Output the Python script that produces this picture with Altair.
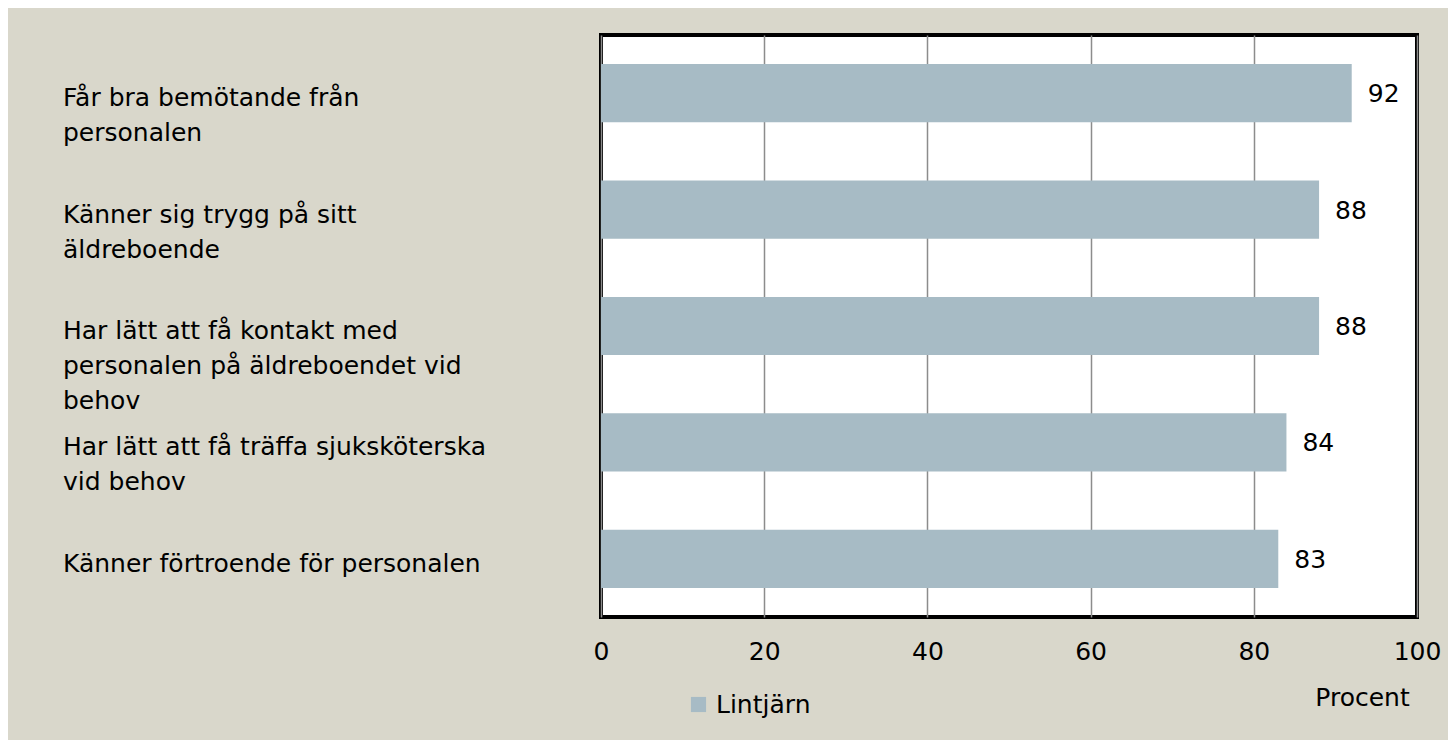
import altair as alt
import pandas as pd

categories = [
    "Får bra bemötande från\npersonalen",
    "Känner sig trygg på sitt\näldreboende",
    "Har lätt att få kontakt med\npersonalen på äldreboendet vid\nbehov",
    "Har lätt att få träffa sjuksköterska\nvid behov",
    "Känner förtroende för personalen",
]
values = [92, 88, 88, 84, 83]
series = ["Lintjärn"] * 5
x_ticks = [0, 20, 40, 60, 80, 100]

df = pd.DataFrame({"cat": categories, "val": values, "serie": series})

FONT = "DejaVu Sans"
FS = 25
BG = "#d9d7cb"
BAR = "#a7bbc5"

y_enc = alt.Y("cat:N", sort=categories, axis=None,
              scale=alt.Scale(paddingInner=0.5, paddingOuter=0.25))

bars = alt.Chart(df).mark_bar(color=BAR).encode(
    y=y_enc,
    x=alt.X("val:Q", scale=alt.Scale(domain=[0, 100], nice=False),
            axis=alt.Axis(values=x_ticks, title="Procent", grid=True,
                          gridColor="#8c8c8c", gridWidth=1.5, ticks=False,
                          domain=False, labelFontSize=FS, labelFont=FONT,
                          labelColor="#000", labelPadding=22, labelFlush=False,
                          titleFont=FONT, titleFontSize=FS, titleFontWeight="normal",
                          titleColor="#000", titleX=761, titleY=80,
                          titleAnchor="middle", titleBaseline="middle")),
    color=alt.Color("serie:N", scale=alt.Scale(range=[BAR]),
                    legend=alt.Legend(title=None, orient="none", legendX=85, legendY=657,
                                      symbolType="square", symbolSize=230,
                                      symbolStrokeWidth=0, labelFont=FONT,
                                      labelFontSize=FS, labelColor="#000",
                                      labelOffset=5, padding=0)),
)

vals = alt.Chart(df).mark_text(align="left", baseline="middle", dx=16, dy=1,
                               font=FONT, fontSize=FS, color="#000").encode(
    y=y_enc, x=alt.X("val:Q"), text=alt.Text("val:Q"))

labels = alt.Chart(df).mark_text(align="left", baseline="top", dy=-7,
                                 lineBreak="\n", lineHeight=35,
                                 font=FONT, fontSize=FS, color="#000").encode(
    y=y_enc, x=alt.value(-538), text="cat:N")

chart = alt.layer(bars, vals, labels).properties(
    width=816, height=582, background=BG,
    padding={"left": 593, "top": 27, "right": 31, "bottom": 123},
    autosize=alt.AutoSizeParams(type="none"),
).configure_view(stroke="#000", strokeWidth=4, fill="white")

chart.save("out.html", embed_options={"renderer": "svg", "actions": False})
